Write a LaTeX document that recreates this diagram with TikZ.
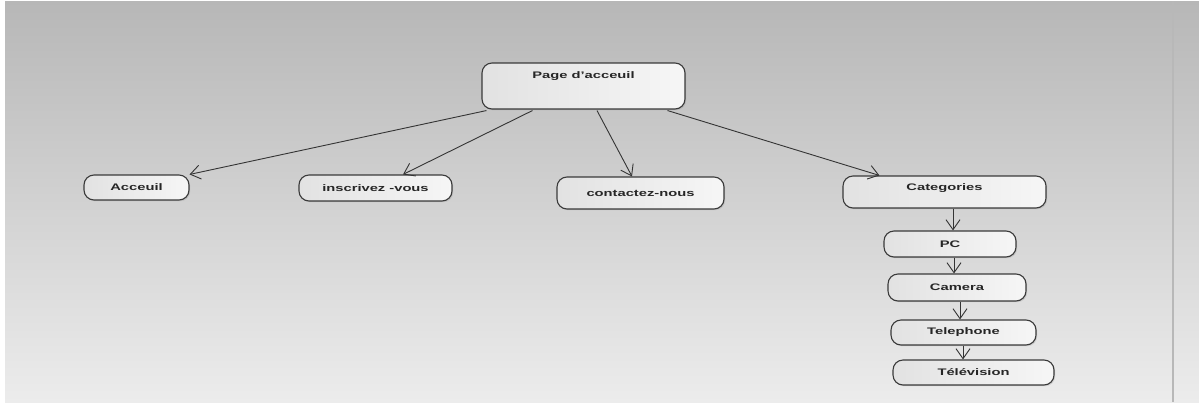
\documentclass[tikz,border=0pt]{standalone}
\usepackage{fontspec}
\usepackage{graphicx}
\setmainfont{Liberation Sans}
\usetikzlibrary{arrows.meta,shadows}
\definecolor{bgtop}{HTML}{B7B7B7}
\definecolor{bgbot}{HTML}{ECECEC}
\definecolor{edge}{HTML}{3A3A3A}
\definecolor{nleft}{HTML}{E2E2E2}
\definecolor{nright}{HTML}{F6F6F6}
\newcommand{\lbl}[1]{\scalebox{1.55}[1]{\fontsize{9.5}{11}\selectfont\bfseries #1}}
\tikzset{
  box/.style={draw=edge, line width=1.1pt, rounded corners=10pt, left color=nleft, right color=nright,
    inner sep=0pt, text=black!85, drop shadow={shadow xshift=1.2pt, shadow yshift=-1.2pt, opacity=0.25}},
  arr/.style={draw=edge!90!black, line width=0.9pt, -{Straight Barb[length=10pt,width=14pt,line width=0.9pt]}}
}
\begin{document}
\begin{tikzpicture}[x=1pt,y=-1pt]
\useasboundingbox (0,0) rectangle (1199,402);
\fill[white] (0,0) rectangle (1199,402);
\shade[top color=bgtop, bottom color=bgbot] (5,1) rectangle (1199,402);
\draw[color=black!28, line width=1.3pt] (1173,1) -- (1173,402);

\node[box, minimum width=203pt, text height=11pt, text depth=27pt, inner ysep=4pt] (page) at (583.5,86) {\lbl{Page d'acceuil}};
\node[box, minimum width=105pt, minimum height=25pt] (acc) at (136.5,187.5) {\lbl{Acceuil}};
\node[box, minimum width=153pt, minimum height=26pt] (ins) at (375.5,188) {\lbl{inscrivez -vous}};
\node[box, minimum width=167pt, minimum height=32pt] (con) at (640.5,193) {\lbl{contactez-nous}};
\node[box, minimum width=203pt, text height=10pt, text depth=14pt, inner ysep=4pt] (cat) at (944.5,192) {\lbl{Categories}};
\node[box, minimum width=132pt, minimum height=26pt] (pc) at (950,244) {\lbl{PC}};
\node[box, minimum width=138pt, minimum height=27pt] (cam) at (957,287.5) {\lbl{Camera}};
\node[box, minimum width=145pt, minimum height=25pt] (tel) at (963.5,332.5) {\lbl{Telephone}};
\node[box, minimum width=161pt, minimum height=25pt] (tv) at (973.5,372.5) {\lbl{Télévision}};

\draw[arr] ([xshift=5pt,yshift=-1pt]page.south west) -- (acc.north east);
\draw[arr] ([xshift=51pt,yshift=-1pt]page.south west) -- ([xshift=27.5pt]ins.north);
\draw[arr] ([xshift=13.5pt,yshift=-1pt]page.south) -- ([xshift=-8.5pt]con.north);
\draw[arr] ([xshift=-18pt,yshift=-1pt]page.south east) -- ([xshift=37pt]cat.north west);
\draw[arr] ([xshift=8.5pt]cat.south) -- ([xshift=3pt]pc.north);
\draw[arr] ([xshift=4pt]pc.south) -- ([xshift=-3pt]cam.north);
\draw[arr] ([xshift=3pt]cam.south) -- ([xshift=-3.5pt]tel.north);
\draw[arr] ([xshift=-0.5pt]tel.south) -- ([xshift=-10.5pt]tv.north);
\end{tikzpicture}
\end{document}
